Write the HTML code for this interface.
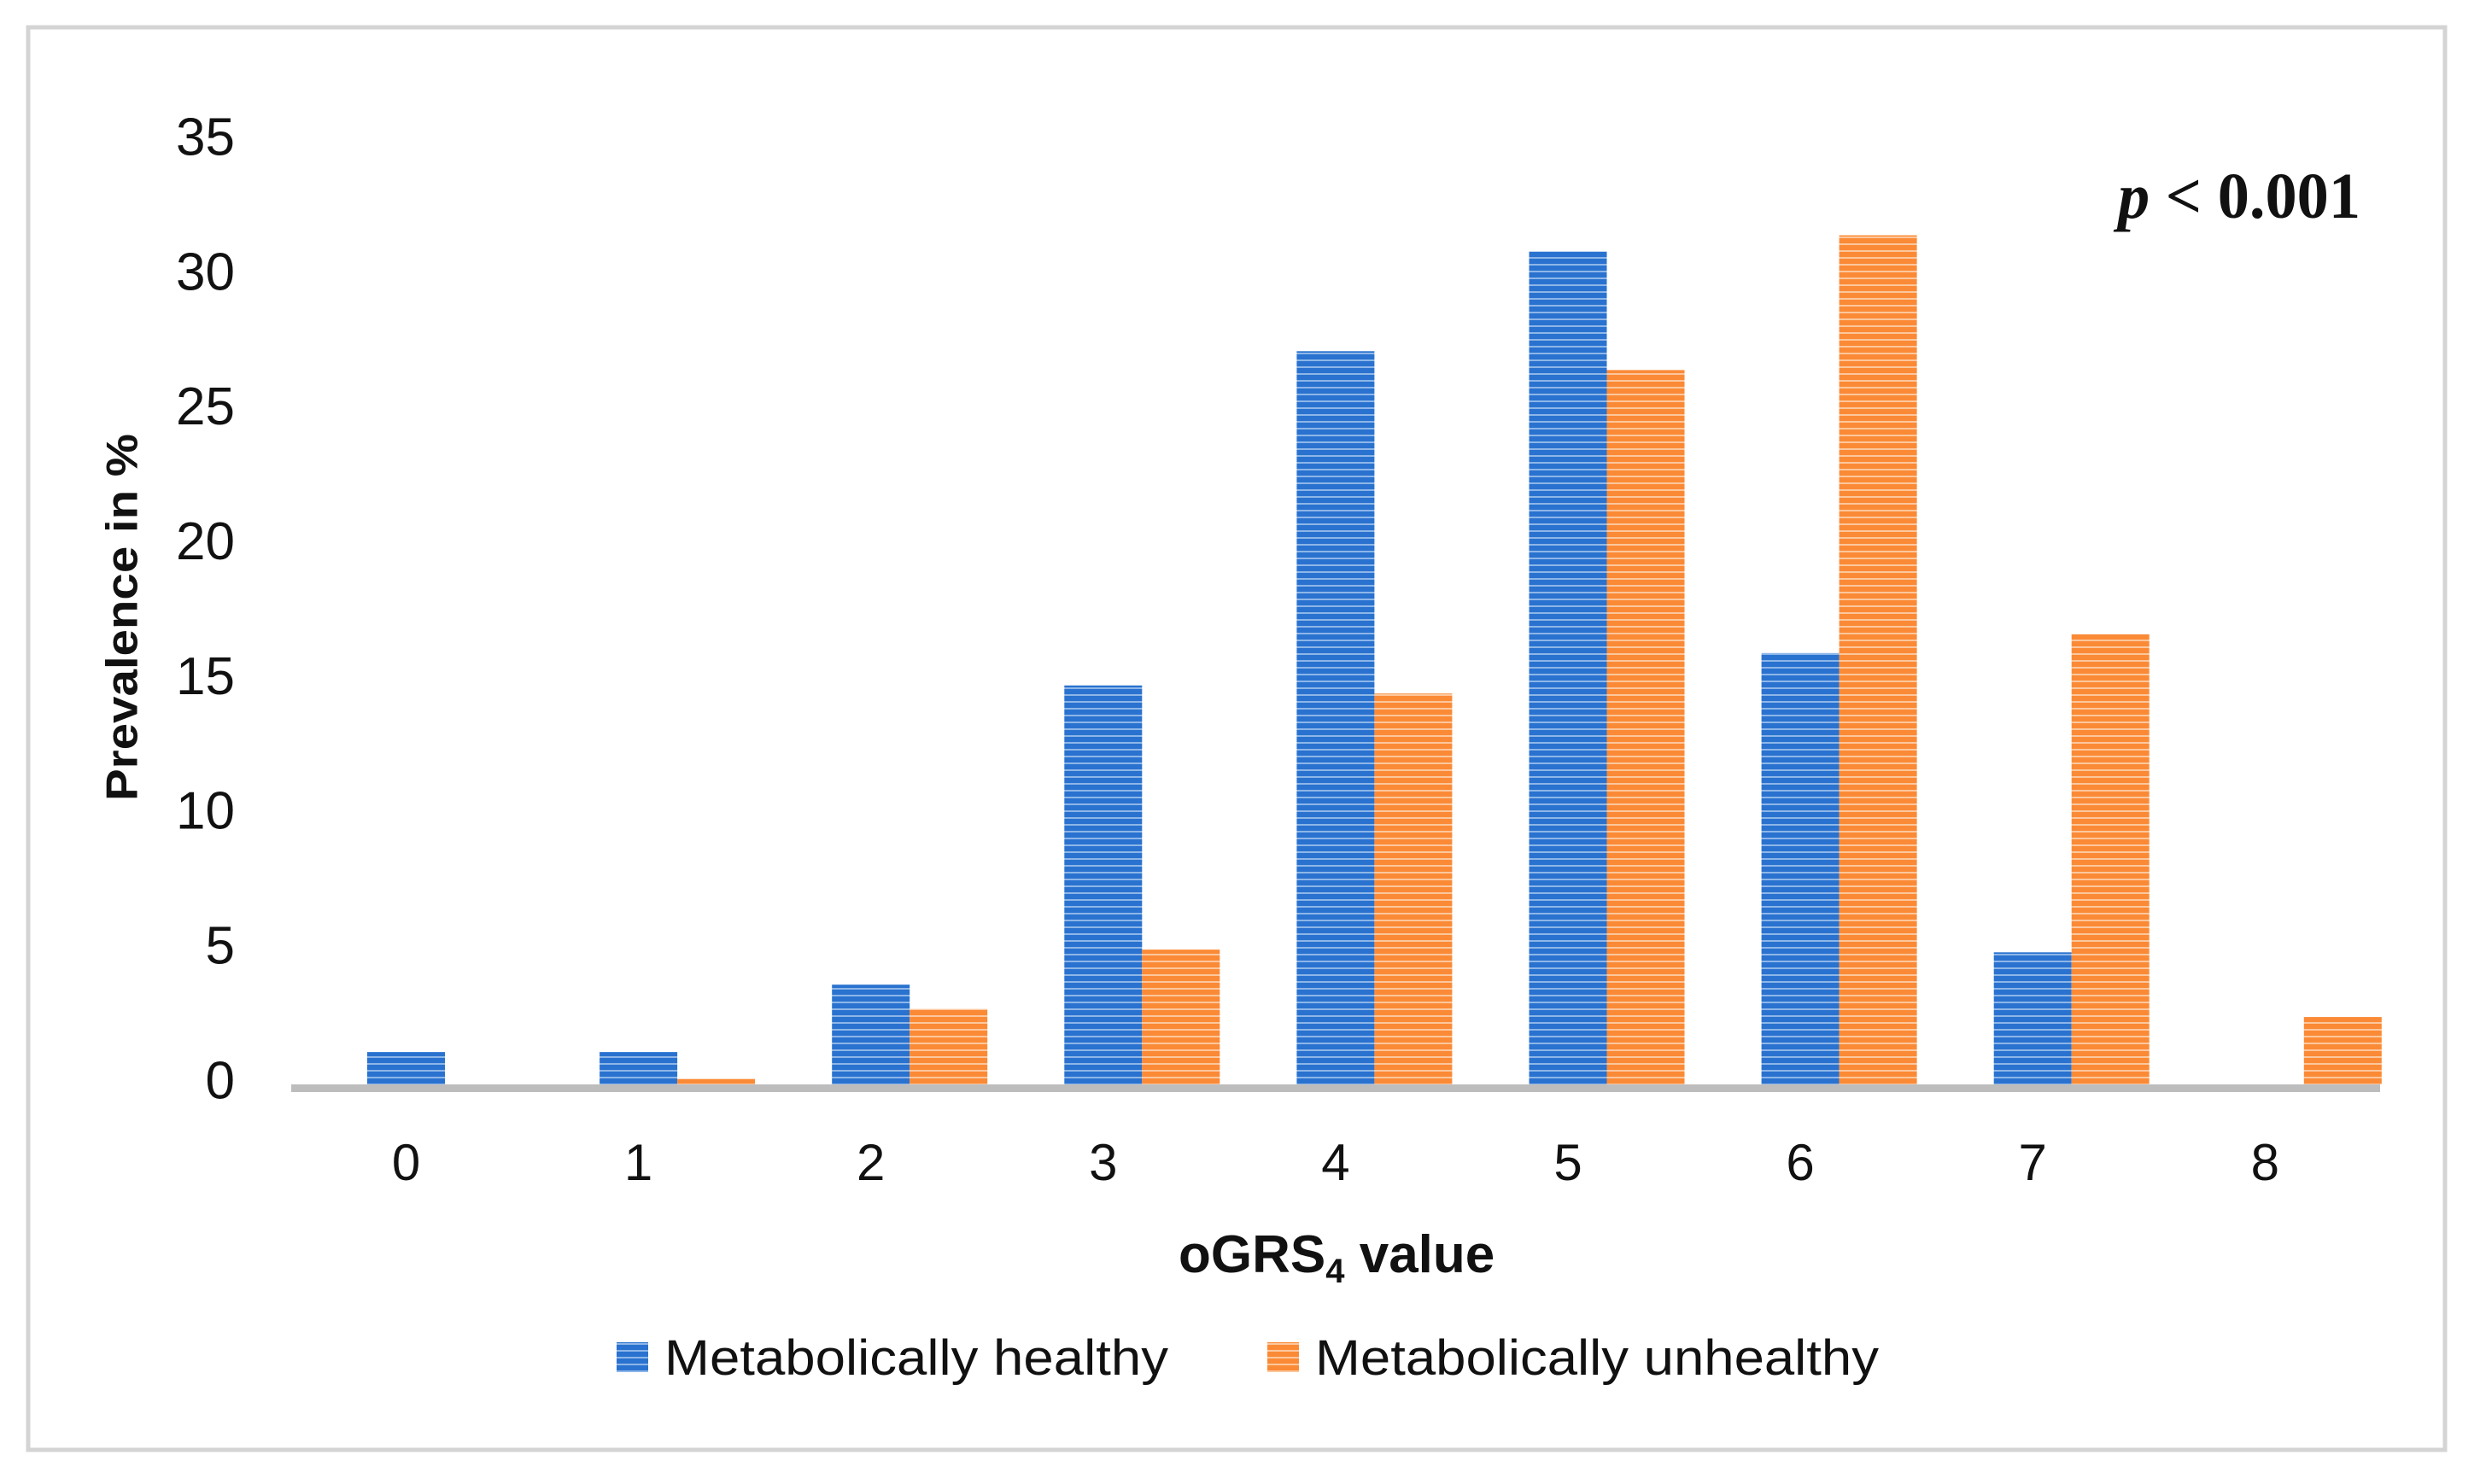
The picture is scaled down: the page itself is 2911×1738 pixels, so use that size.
<!DOCTYPE html>
<html><head><meta charset="utf-8"><style>
html,body{margin:0;padding:0;background:#fff}
svg{display:block}
text{font-family:"Liberation Sans",sans-serif;fill:#111}
</style></head><body>
<svg width="2911" height="1738" viewBox="0 0 2911 1738" xmlns="http://www.w3.org/2000/svg">
<defs>
<pattern id="pb" width="10" height="8" patternUnits="userSpaceOnUse"><rect width="10" height="8" fill="#2a72cf"/><rect y="5" width="10" height="2" fill="#8db6e8"/></pattern>
<pattern id="po" width="10" height="8" patternUnits="userSpaceOnUse"><rect width="10" height="8" fill="#fb8a36"/><rect y="5" width="10" height="2" fill="#fcc79c"/></pattern>
</defs>
<rect x="33" y="32" width="2830" height="1666" fill="#fff" stroke="#d4d4d4" stroke-width="5"/>
<g id="yticks"></g><g id="bars"></g><g id="xticks"></g>
<rect x="341" y="1270" width="2446" height="9" fill="#bdbdbd"/>
<text x="147" y="723" transform="rotate(-90 147 723)" text-anchor="middle" dominant-baseline="middle" font-weight="bold" font-size="52" textLength="430" lengthAdjust="spacingAndGlyphs">Prevalence in %</text>
<text x="1380" y="1490" font-weight="bold" font-size="62">oGRS<tspan font-size="40" dy="12">4</tspan><tspan dy="-12"> value</tspan></text>
<text x="2480" y="255" style="font-family:'Liberation Serif',serif" font-weight="bold" font-size="76" textLength="284" lengthAdjust="spacingAndGlyphs"><tspan font-style="italic">p</tspan> &lt; 0.001</text>
<rect x="722" y="1572" width="37" height="35" fill="url(#pb)"/>
<text x="778" y="1610" font-size="58" textLength="590" lengthAdjust="spacingAndGlyphs">Metabolically healthy</text>
<rect x="1484" y="1572" width="37" height="35" fill="url(#po)"/>
<text x="1540" y="1610" font-size="58" textLength="660" lengthAdjust="spacingAndGlyphs">Metabolically unhealthy</text>
</svg>
<script>
const categories=["0","1","2","3","4","5","6","7","8"];
const healthy=[1.2,1.2,3.7,14.8,27.2,30.9,16.0,4.9,0];
const unhealthy=[0,0.2,2.8,5.0,14.5,26.5,31.5,16.7,2.5];
const yTicks=[0,5,10,15,20,25,30,35];
const NS="http://www.w3.org/2000/svg";
const x0=430,step=272.1,bw=91;
function y(v){return 1270-v*31.57;}
function xc(i){return x0+i*step;}
const yt=document.getElementById('yticks');
yTicks.forEach(t=>{
  const e=document.createElementNS(NS,'text');
  e.setAttribute('x',275);e.setAttribute('y',y(t));
  e.setAttribute('text-anchor','end');e.setAttribute('dominant-baseline','middle');
  e.setAttribute('font-size','62');e.textContent=t;
  
  
  yt.appendChild(e);
});
const bg=document.getElementById('bars'),xt=document.getElementById('xticks');
categories.forEach((c,i)=>{
  [[healthy,'url(#pb)',0,'bar-healthy'],[unhealthy,'url(#po)',bw,'bar-unhealthy']].forEach(([arr,f,off,nm])=>{
    const v=arr[i]; if(v<=0) return;
    const r=document.createElementNS(NS,'rect');
    r.setAttribute('x',xc(i)+off);r.setAttribute('y',y(v));
    r.setAttribute('width',bw);r.setAttribute('height',1270-y(v));
    r.setAttribute('fill',f);
    
    
    bg.appendChild(r);
  });
  const t=document.createElementNS(NS,'text');
  t.setAttribute('x',xc(i)+bw/2);t.setAttribute('y',1366);
  t.setAttribute('text-anchor','middle');t.setAttribute('dominant-baseline','middle');
  t.setAttribute('font-size','60');t.textContent=c;
  
  
  xt.appendChild(t);
});
</script>
</body></html>
